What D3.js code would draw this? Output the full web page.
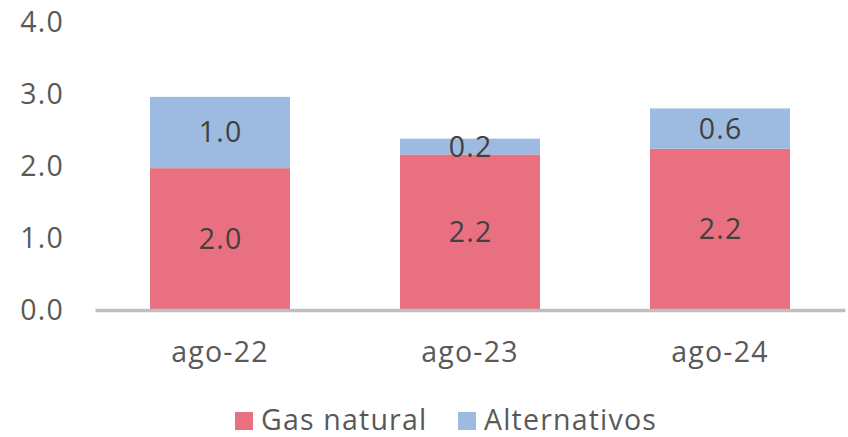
<!DOCTYPE html>
<html>
<head>
<meta charset="utf-8">
<script src="https://d3js.org/d3.v7.min.js"></script>
<style>
  body {margin:0; background:#fff;}
  svg text {font-family:'Open Sans', Lato, sans-serif; letter-spacing:1.2px;}
</style>
</head>
<body>
<svg id="chart"></svg>
<script>
// data
const categories = ['ago-22', 'ago-23', 'ago-24'];
const gasNatural = [1.97, 2.16, 2.24];
const alternativos = [0.99, 0.22, 0.56];
const seriesNames = ['Gas natural', 'Alternativos'];
const yTicks = [0, 1, 2, 3, 4];

const W = 848, H = 437, FS = 28.5;
const colors = {'Gas natural':'#e97080', 'Alternativos':'#9dbbe0'};

const svg = d3.select('#chart').attr('width', W).attr('height', H);

const x = d3.scaleBand().domain(categories).range([95, 845])
            .paddingInner(0.44).paddingOuter(0.22);
const y = d3.scaleLinear().domain([0, 4]).range([310, 22]);

const rows = categories.map((c, i) => ({cat:c, 'Gas natural':gasNatural[i], 'Alternativos':alternativos[i]}));
const stacked = d3.stack().keys(seriesNames)(rows);

// y tick labels
svg.append('g').selectAll('text').data(yTicks).join('text')
   .attr('x', 64).attr('y', d => y(d)).attr('dy', '0.35em')
   .attr('text-anchor', 'end').attr('font-size', FS).attr('fill', '#595959')
   .text(d => d.toFixed(1));

// bars
const layer = svg.append('g').selectAll('g').data(stacked).join('g')
   .attr('fill', d => colors[d.key]);
layer.selectAll('rect').data(d => d).join('rect')
   .attr('x', d => x(d.data.cat)).attr('width', x.bandwidth())
   .attr('y', d => y(d[1])).attr('height', d => y(d[0]) - y(d[1]));

// value labels
svg.append('g').selectAll('g').data(stacked).join('g')
   .selectAll('text').data(d => d).join('text')
   .attr('x', d => x(d.data.cat) + x.bandwidth() / 2 + 0.6)
   .attr('y', d => (y(d[0]) + y(d[1])) / 2).attr('dy', '0.35em')
   .attr('text-anchor', 'middle').attr('font-size', FS).attr('fill', '#404040')
   .text(d => (d[1] - d[0]).toFixed(1));

// x axis
const xAxis = svg.append('g').attr('transform', 'translate(0,310)')
   .call(d3.axisBottom(x).tickSize(0).tickPadding(32));
xAxis.select('.domain').attr('stroke', '#bfbfbf').attr('stroke-width', 3.5);
xAxis.selectAll('text').attr('font-size', FS).attr('fill', '#595959')
   .attr('font-family', "'Open Sans', sans-serif");

// legend
const legendItems = [{name:'Gas natural', x:235}, {name:'Alternativos', x:458}];
const lg = svg.append('g').selectAll('g').data(legendItems).join('g')
   .attr('transform', d => `translate(${d.x},412)`);
lg.append('rect').attr('width', 18).attr('height', 18).attr('fill', d => colors[d.name]);
lg.append('text').attr('x', 26).attr('y', 17.5)
   .attr('font-size', FS).attr('fill', '#595959').text(d => d.name);
</script>
</body>
</html>
